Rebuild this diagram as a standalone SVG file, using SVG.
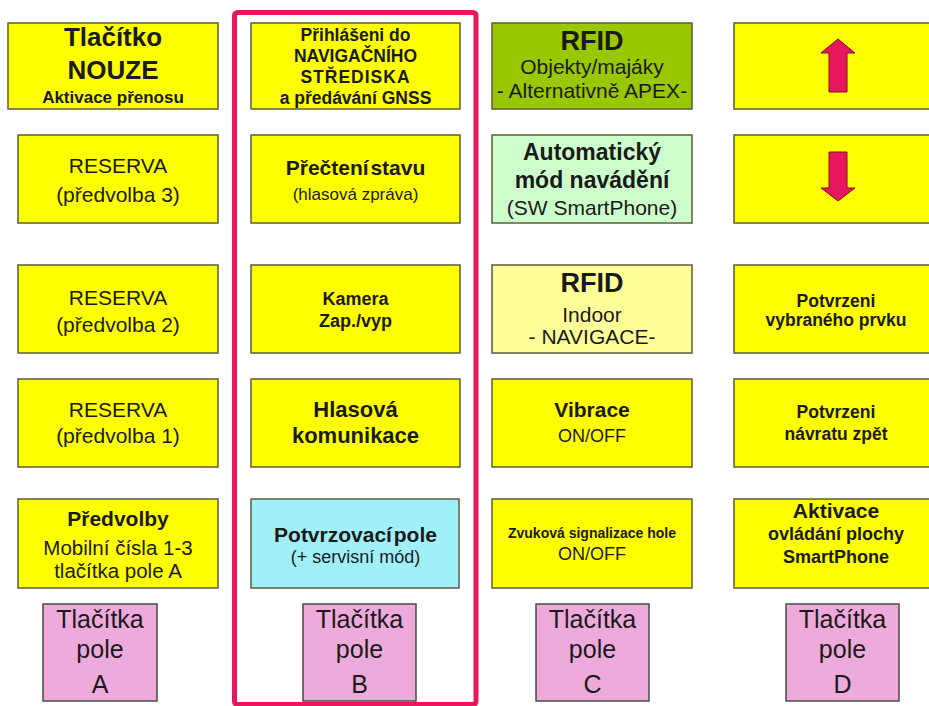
<svg xmlns="http://www.w3.org/2000/svg" width="929" height="706" viewBox="0 0 929 706">
<style>
text{font-family:"Liberation Sans",Arial,sans-serif;text-anchor:middle;fill:#1a1a1a}
.b{font-weight:bold}
.box{stroke:#5c5c3c;stroke-width:1.5}
.y{fill:#ffff00}
.g{fill:#99c800}
.lg{fill:#ccffcc}
.ly{fill:#ffff99}
.cy{fill:#a0f0fa}
.pk{fill:#eeaadb;stroke:#4a4a4a;stroke-width:1.5}
.arr{fill:#e8175d;stroke:#7a1030;stroke-width:1}
</style>
<rect width="929" height="706" fill="#ffffff"/>
<rect id="frameB" x="234.5" y="12.5" width="241.5" height="692" rx="3" fill="none" stroke="#e8175d" stroke-width="5"/>

<g id="A1"><rect class="box y" x="8" y="23" width="210" height="86"/>
<text class="b" x="113" y="46" font-size="26">Tlačítko</text>
<text class="b" x="113" y="79" font-size="26">NOUZE</text>
<text class="b" x="113" y="103" font-size="17">Aktivace přenosu</text></g>

<g id="A2"><rect class="box y" x="18" y="135" width="200" height="88"/>
<text x="118" y="173" font-size="21">RESERVA</text>
<text x="118" y="202" font-size="21">(předvolba 3)</text></g>

<g id="A3"><rect class="box y" x="18" y="265" width="200" height="88"/>
<text x="118" y="305" font-size="21">RESERVA</text>
<text x="118" y="332" font-size="21">(předvolba 2)</text></g>

<g id="A4"><rect class="box y" x="18" y="379" width="200" height="88"/>
<text x="118" y="417" font-size="21">RESERVA</text>
<text x="118" y="443" font-size="21">(předvolba 1)</text></g>

<g id="A5"><rect class="box y" x="18" y="499" width="200" height="89"/>
<text class="b" x="118" y="526" font-size="21">Předvolby</text>
<text x="118" y="555" font-size="20.5">Mobilní čísla 1-3</text>
<text x="118" y="578" font-size="20.5">tlačítka pole A</text></g>

<g id="B1"><rect class="box y" x="251" y="23" width="209" height="86"/>
<text class="b" x="355.5" y="41" font-size="17.5">Přihlášeni do</text>
<text class="b" x="355.5" y="62" font-size="17.5">NAVIGAČNÍHO</text>
<text class="b" x="355.5" y="83" font-size="17.5" letter-spacing="1">STŘEDISKA</text>
<text class="b" x="355.5" y="104" font-size="17.5">a předávání GNSS</text></g>

<g id="B2"><rect class="box y" x="251" y="135" width="209" height="88"/>
<text class="b" x="355.5" y="175" font-size="21" word-spacing="-4">Přečtení stavu</text>
<text x="355.5" y="200" font-size="17">(hlasová zpráva)</text></g>

<g id="B3"><rect class="box y" x="251" y="265" width="209" height="88"/>
<text class="b" x="355.5" y="305" font-size="18">Kamera</text>
<text class="b" x="355.5" y="327" font-size="18">Zap./vyp</text></g>

<g id="B4"><rect class="box y" x="251" y="379" width="209" height="88"/>
<text class="b" x="355.5" y="417" font-size="22">Hlasová</text>
<text class="b" x="355.5" y="443" font-size="22">komunikace</text></g>

<g id="B5"><rect class="box cy" x="251" y="499" width="208" height="89"/>
<text class="b" x="355.5" y="542" font-size="21" word-spacing="-4">Potvrzovací pole</text>
<text x="355.5" y="563" font-size="18">(+ servisní mód)</text></g>

<g id="C1"><rect class="box g" x="492" y="23" width="200" height="86"/>
<text class="b" x="592" y="50" font-size="27">RFID</text>
<text x="592" y="74" font-size="21">Objekty/majáky</text>
<text x="592" y="98" font-size="21">- Alternativně APEX-</text></g>

<g id="C2"><rect class="box lg" x="492" y="135" width="200" height="88"/>
<text class="b" x="592" y="160" font-size="23">Automatický</text>
<text class="b" x="592" y="188" font-size="23">mód navádění</text>
<text x="592" y="215" font-size="21">(SW SmartPhone)</text></g>

<g id="C3"><rect class="box ly" x="492" y="265" width="200" height="88"/>
<text class="b" x="592" y="292" font-size="27">RFID</text>
<text x="592" y="322" font-size="21">Indoor</text>
<text x="592" y="344" font-size="21">- NAVIGACE-</text></g>

<g id="C4"><rect class="box y" x="492" y="379" width="200" height="88"/>
<text class="b" x="592" y="417" font-size="21">Vibrace</text>
<text x="592" y="442" font-size="18">ON/OFF</text></g>

<g id="C5"><rect class="box y" x="492" y="499" width="200" height="89"/>
<text class="b" x="592" y="538" font-size="14">Zvuková signalizace hole</text>
<text x="592" y="560" font-size="18">ON/OFF</text></g>

<g id="D1"><rect class="box y" x="734" y="23" width="204" height="86"/>
<polygon class="arr" points="838,39 855,53 847,53 847,92 829,92 829,53 821,53"/></g>

<g id="D2"><rect class="box y" x="734" y="135" width="204" height="88"/>
<polygon class="arr" points="829,152 847,152 847,188 855,188 838,201 821,188 829,188"/></g>

<g id="D3"><rect class="box y" x="734" y="265" width="204" height="88"/>
<text class="b" x="836" y="307" font-size="17.5">Potvrzeni</text>
<text class="b" x="836" y="326" font-size="17.5">vybraného prvku</text></g>

<g id="D4"><rect class="box y" x="734" y="379" width="204" height="88"/>
<text class="b" x="836" y="418" font-size="17.5">Potvrzeni</text>
<text class="b" x="836" y="440" font-size="17.5">návratu zpět</text></g>

<g id="D5"><rect class="box y" x="734" y="499" width="204" height="89"/>
<text class="b" x="836" y="518" font-size="21">Aktivace</text>
<text class="b" x="836" y="540" font-size="18">ovládání plochy</text>
<text class="b" x="836" y="563" font-size="18">SmartPhone</text></g>

<g id="PA"><rect class="pk" x="43" y="604" width="114" height="97"/>
<text x="100" y="628" font-size="25">Tlačítka</text>
<text x="100" y="658" font-size="25">pole</text>
<text x="100" y="693" font-size="25">A</text></g>

<g id="PB"><rect class="pk" x="303" y="604" width="113" height="97"/>
<text x="359.5" y="628" font-size="25">Tlačítka</text>
<text x="359.5" y="658" font-size="25">pole</text>
<text x="359.5" y="693" font-size="25">B</text></g>

<g id="PC"><rect class="pk" x="536" y="604" width="113" height="97"/>
<text x="592.5" y="628" font-size="25">Tlačítka</text>
<text x="592.5" y="658" font-size="25">pole</text>
<text x="592.5" y="693" font-size="25">C</text></g>

<g id="PD"><rect class="pk" x="786" y="604" width="113" height="97"/>
<text x="842.5" y="628" font-size="25">Tlačítka</text>
<text x="842.5" y="658" font-size="25">pole</text>
<text x="842.5" y="693" font-size="25">D</text></g>
</svg>
